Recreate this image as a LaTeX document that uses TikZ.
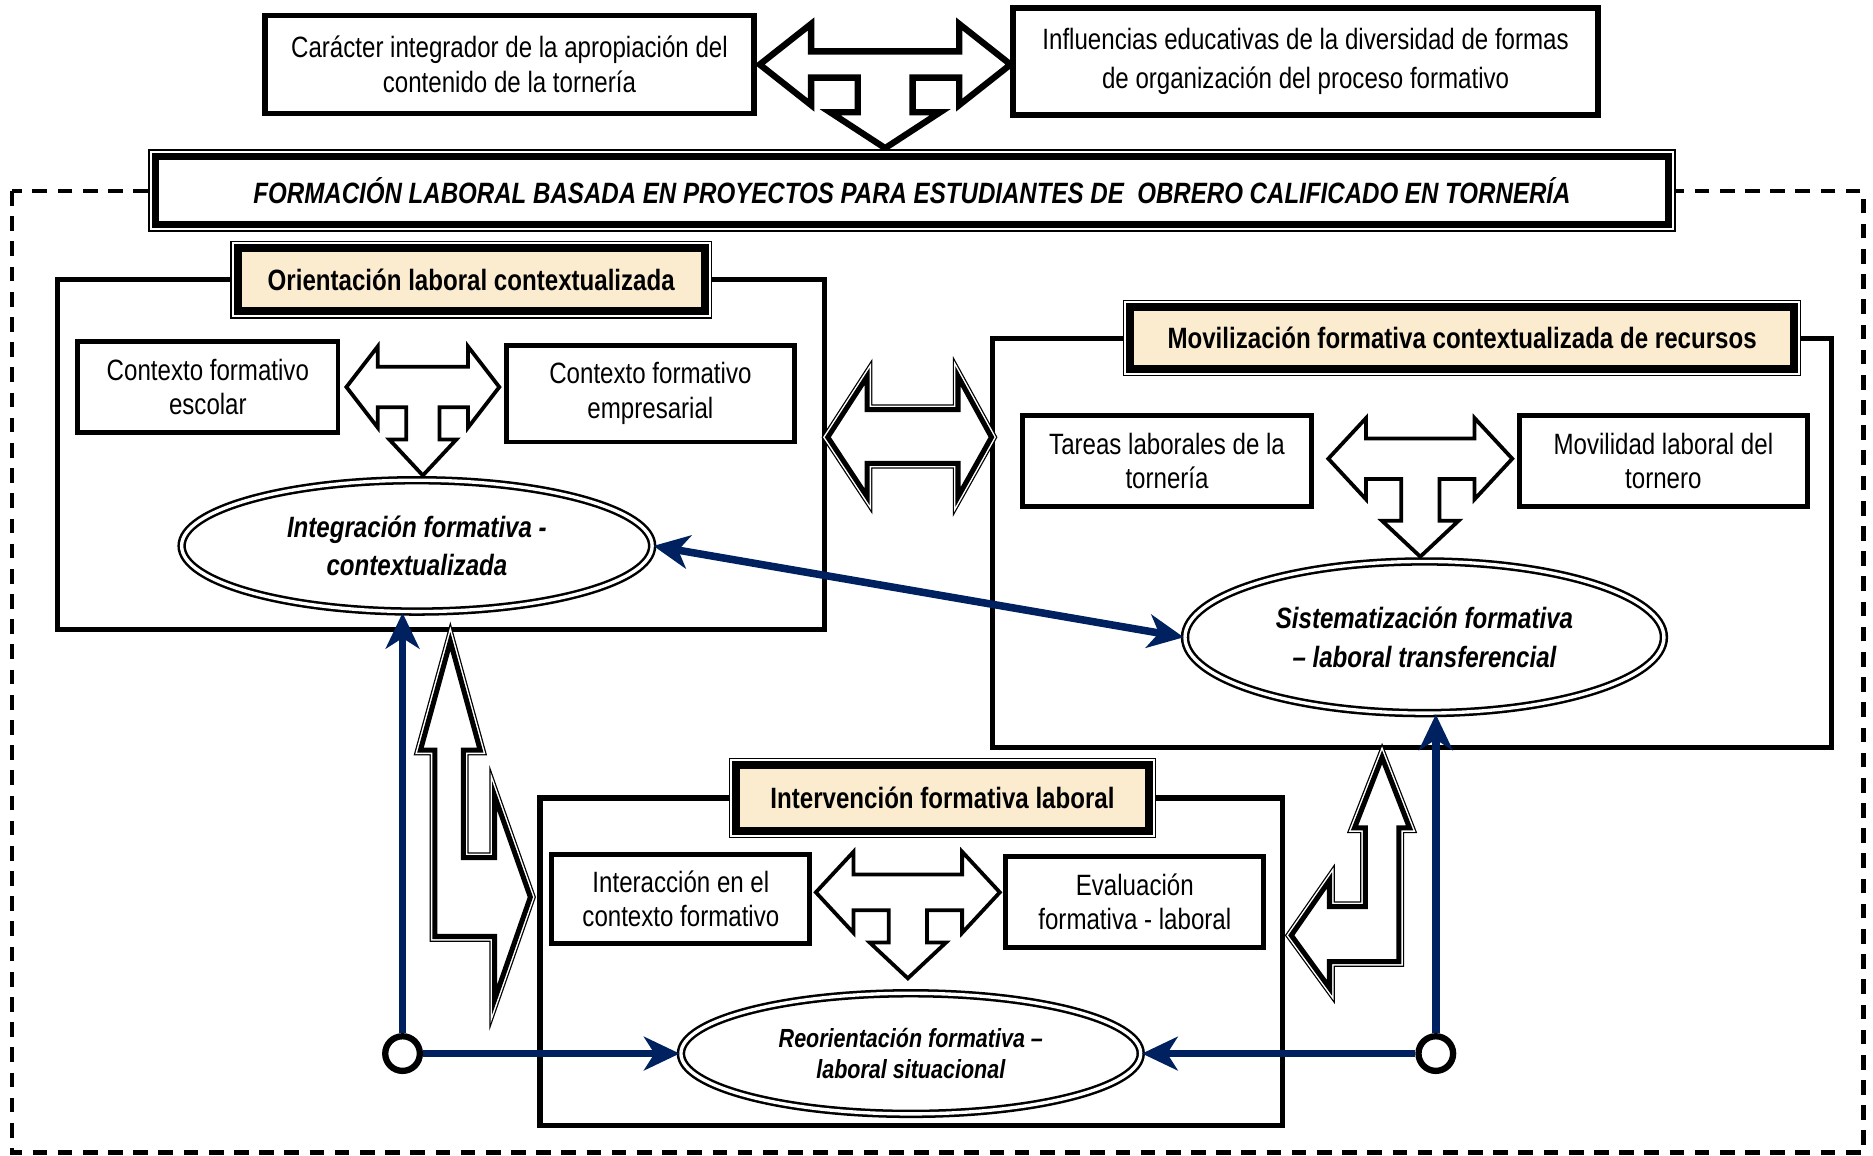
\documentclass[tikz,border=0pt]{standalone}
\usepackage{fontspec}
\setmainfont{Liberation Sans}[FakeStretch=0.82]
\usetikzlibrary{shapes.geometric,arrows.meta}
\definecolor{navy}{RGB}{0,33,96}
\definecolor{tagfill}{RGB}{251,236,208}
% left-right-down arrow: style, centre x, centre y, half width, shaft, stem, tip
\newcommand{\teearrow}[7][]{%
  \draw[#1] ({#2-#4},{#3}) -- ({#2-0.59*#4},{#3-34}) -- ({#2-0.59*#4},{#3-#5})
    -- ({#2+0.59*#4},{#3-#5}) -- ({#2+0.59*#4},{#3-34}) -- ({#2+#4},{#3})
    -- ({#2+0.59*#4},{#3+34}) -- ({#2+0.59*#4},{#3+#5}) -- ({#2+#6},{#3+#5})
    -- ({#2+#6},{#3+#7-30}) -- ({#2+2*#6},{#3+#7-30}) -- ({#2},{#3+#7})
    -- ({#2-2*#6},{#3+#7-30}) -- ({#2-#6},{#3+#7-30}) -- ({#2-#6},{#3+#5})
    -- ({#2-0.59*#4},{#3+#5}) -- ({#2-0.59*#4},{#3+34}) -- cycle;}
\begin{document}
\begin{tikzpicture}[x=0.02cm,y=-0.02cm,
  every node/.style={font=\fontsize{14}{16.5}\selectfont},
  >={Stealth[length=17pt,width=16pt,inset=5pt]},
  box/.style={draw,line width=2.3pt,fill=white,align=center,inner sep=2pt},
  topbox/.style={box,line width=2.8pt},
  bigbox/.style={draw,line width=2.4pt,inner sep=0pt},
  dblthick/.style={preaction={draw=black,line width=7pt},preaction={draw=white,line width=5.6pt},draw=black,line width=3.6pt},
  dblthin/.style={preaction={draw=black,line width=5pt},preaction={draw=white,line width=3.8pt},draw=black,line width=2.4pt,fill=white},
  tagbox/.style={dblthick,fill=tagfill,inner sep=0pt,font=\bfseries\fontsize{14}{16.5}\selectfont},
  ell/.style={ellipse,draw,line width=1.2pt,double,double distance=1.6pt,fill=white,inner sep=0pt,align=center,font=\bfseries\itshape\fontsize{14}{18.5}\selectfont},
  tee/.style={draw,fill=white,line width=1.8pt},
  navyline/.style={draw=navy,line width=3.6pt},
  dot/.style={circle,draw,line width=3pt,fill=white,minimum size=0.58cm,inner sep=0pt},
  dashframe/.style={draw,line width=2.2pt,dash pattern=on 7pt off 5pt}]
\useasboundingbox (0,0) rectangle (1568,967);
\draw[dashframe] (10,160) rectangle (1560,965);
% top
\node[topbox,minimum width=8.18cm,minimum height=1.64cm] (ca) at (426.5,54) {Carácter integrador de la apropiación del\\contenido de la tornería};
\node[topbox,minimum width=9.8cm,minimum height=1.78cm,font=\fontsize{14}{18.5}\selectfont] (ie) at (1093,51.5) {Influencias educativas de la diversidad de formas\\de organización del proceso formativo};
\teearrow[tee,line width=3pt]{741}{54}{105}{11}{23}{70}
\node[dblthick,fill=white,minimum width=25.34cm,minimum height=1.14cm,inner sep=0pt,font=\bfseries\itshape\fontsize{14}{16.5}\selectfont] (ti) at (763.5,159.5) {FORMACIÓN LABORAL BASADA EN PROYECTOS PARA ESTUDIANTES DE\ \ OBRERO CALIFICADO EN TORNERÍA};
% three blocks
\node[bigbox,minimum width=12.84cm,minimum height=5.86cm] (ba) at (369,380.5) {};
\node[bigbox,minimum width=14.04cm,minimum height=6.86cm] (bb) at (1182,454.5) {};
\node[bigbox,minimum width=12.44cm,minimum height=5.48cm] (bc) at (763,805) {};
\node[tagbox,minimum width=7.82cm,minimum height=1.06cm] (ta) at (394.5,234) {Orientación laboral contextualizada};
\node[tagbox,minimum width=11.12cm,minimum height=1.04cm] (tb) at (1224,283) {Movilización formativa contextualizada de recursos};
\node[tagbox,minimum width=6.92cm,minimum height=1.1cm] (tc) at (789,668) {Intervención formativa laboral};
\node[box,minimum width=4.36cm,minimum height=1.52cm] (a1) at (174,324) {Contexto formativo\\escolar};
\node[box,minimum width=4.82cm,minimum height=1.62cm] (a2) at (544.5,329.5) {Contexto formativo\\empresarial};
\node[box,minimum width=4.84cm,minimum height=1.52cm] (b1) at (977,386) {Tareas laborales de la\\tornería};
\node[box,minimum width=4.82cm,minimum height=1.52cm] (b2) at (1392.5,386) {Movilidad laboral del\\tornero};
\node[box,minimum width=4.32cm,minimum height=1.5cm] (c1) at (570,752.5) {Interacción en el\\contexto formativo};
\node[box,minimum width=4.32cm,minimum height=1.52cm] (c2) at (950,755) {Evaluación\\formativa - laboral};
\teearrow[tee]{354}{324}{64}{17}{14}{74}
\teearrow[tee]{1189}{384}{77}{17}{16}{82}
\teearrow[tee]{760}{747}{77}{15}{16}{72}
\node[ell,minimum width=7.88cm,minimum height=2.2cm] (ea) at (349,457) {Integración formativa -\\contextualizada};
\node[ell,minimum width=8.02cm,minimum height=2.54cm] (eb) at (1192.5,533.5) {Sistematización formativa\\– laboral transferencial};
\node[ell,minimum width=7.7cm,minimum height=2.02cm,font=\bfseries\itshape\fontsize{12.5}{14.5}\selectfont] (ec) at (762.5,882) {Reorientación formativa –\\laboral situacional};
% hollow arrows between blocks
\draw[dblthin] (693,366) -- (726,315) -- (726,343) -- (802,343) -- (802,315) -- (830,366) -- (802,416) -- (802,388) -- (726,388) -- (726,416) -- cycle;
\draw[dblthin] (377,537) -- (402,628) -- (388,628) -- (388,718) -- (414,718) -- (414,666) -- (444,751) -- (414,837) -- (414,784) -- (364,784) -- (364,628) -- (352,628) -- cycle;
\draw[dblthin] (1157,634) -- (1180,693) -- (1171,693) -- (1171,805) -- (1113,805) -- (1113,827) -- (1081,783) -- (1113,737) -- (1113,759) -- (1143,759) -- (1143,693) -- (1134,693) -- cycle;
% navy links
\node[dot] (lc) at (337,882) {};
\node[dot] (rc) at (1202,882) {};
\draw[navyline,->] (lc) -- (ec);
\draw[navyline,->] (lc) -- (lc |- ea.south);
\draw[navyline,->] (rc) -- (ec);
\draw[navyline,->] (rc) -- (rc |- eb.south);
\draw[navyline,<->] (ea.east) -- (eb.west);
\end{tikzpicture}
\end{document}
